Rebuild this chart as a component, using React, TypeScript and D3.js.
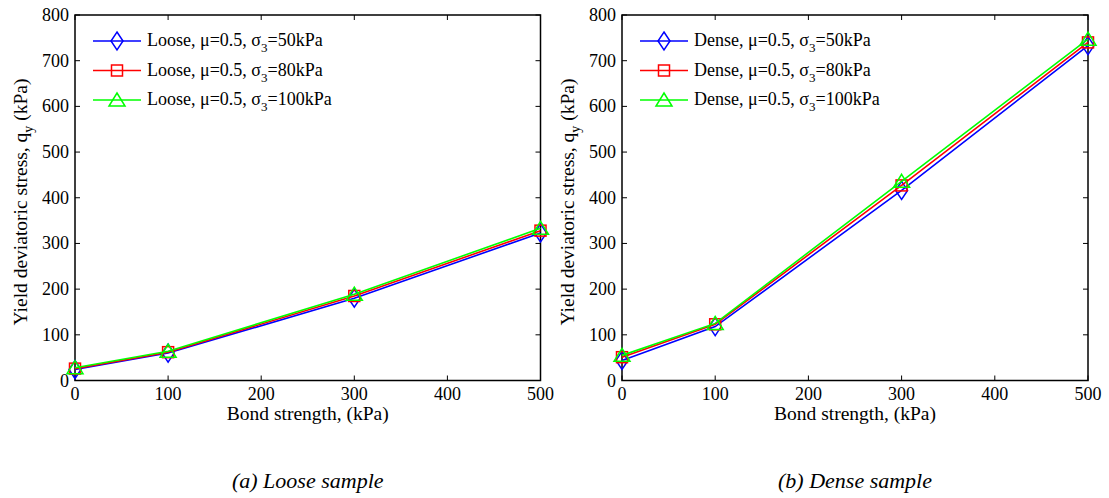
import React from "react";
import * as d3 from "d3";

const bondStrength = [0, 100, 300, 500];
const xTicks = [0, 100, 200, 300, 400, 500];
const yTicks = [0, 100, 200, 300, 400, 500, 600, 700, 800];

const loose50 = [24, 60, 180, 323];
const loose80 = [26, 62, 185, 328];
const loose100 = [28, 64, 189, 333];

const dense50 = [44, 118, 416, 733];
const dense80 = [51, 123, 427, 740];
const dense100 = [55, 125, 436, 747];

const sigmaLabels = ["50kPa", "80kPa", "100kPa"];
const seriesColors = ["#0000ff", "#ff0000", "#00ff00"];
const markerKinds = ["diamond", "square", "triangle"];

const FONT = "'Liberation Serif', 'Times New Roman', serif";

function Marker({ kind, x, y, color }: { kind: string; x: number; y: number; color: string }) {
  if (kind === "diamond") {
    return <path d={`M${x},${y - 9}L${x + 6},${y}L${x},${y + 9}L${x - 6},${y}Z`} fill="none" stroke={color} strokeWidth={1.5} />;
  }
  if (kind === "square") {
    return <rect x={x - 5.5} y={y - 5.5} width={11} height={11} fill="none" stroke={color} strokeWidth={1.5} />;
  }
  return <path d={`M${x},${y - 7}L${x + 8},${y + 6}L${x - 8},${y + 6}Z`} fill="none" stroke={color} strokeWidth={1.5} />;
}

function Panel({ x0, x1, series, prefix, caption }: { x0: number; x1: number; series: number[][]; prefix: string; caption: string }) {
  const top = 15;
  const bottom = 380.5;
  const xs = d3.scaleLinear().domain([0, 500]).range([x0, x1]);
  const ys = d3.scaleLinear().domain([0, 800]).range([bottom, top]);
  const line = d3
    .line<number>()
    .x((_, i) => xs(bondStrength[i]))
    .y((d) => ys(d));
  const cx = (x0 + x1) / 2;
  const tl = 5;
  const fs = 18;
  const afs = 19.5;
  return (
    <g fontFamily={FONT}>
      {xTicks.map((t) => (
        <g key={"x" + t}>
          <line x1={xs(t)} x2={xs(t)} y1={bottom} y2={bottom - tl} stroke="#000" strokeWidth={1} />
          <line x1={xs(t)} x2={xs(t)} y1={top} y2={top + tl} stroke="#000" strokeWidth={1} />
          <text x={xs(t)} y={bottom + 19} textAnchor="middle" fontSize={fs}>{t}</text>
        </g>
      ))}
      {yTicks.map((t) => (
        <g key={"y" + t}>
          <line x1={x0} x2={x0 + tl} y1={ys(t)} y2={ys(t)} stroke="#000" strokeWidth={1} />
          <line x1={x1} x2={x1 - tl} y1={ys(t)} y2={ys(t)} stroke="#000" strokeWidth={1} />
          <text x={x0 - 6} y={ys(t) + 6} textAnchor="end" fontSize={fs}>{t}</text>
        </g>
      ))}
      <rect x={x0} y={top} width={x1 - x0} height={bottom - top} fill="none" stroke="#000" strokeWidth={1.5} />
      {series.map((s, k) => (
        <g key={"s" + k}>
          <path d={line(s) || ""} fill="none" stroke={seriesColors[k]} strokeWidth={1.6} />
          {s.map((v, i) => (
            <Marker key={i} kind={markerKinds[k]} x={xs(bondStrength[i])} y={ys(v)} color={seriesColors[k]} />
          ))}
        </g>
      ))}
      {sigmaLabels.map((lab, k) => {
        const ly = 41 + k * 29.5;
        const lx = x0 + 18;
        return (
          <g key={"l" + k}>
            <line x1={lx} x2={lx + 48} y1={ly} y2={ly} stroke={seriesColors[k]} strokeWidth={1.6} />
            <Marker kind={markerKinds[k]} x={lx + 24} y={ly} color={seriesColors[k]} />
            <text x={lx + 54} y={ly + 5} fontSize={fs}>
              {prefix}, μ=0.5, σ<tspan dy={6} fontSize={13}>3</tspan>
              <tspan dy={-6}>={lab}</tspan>
            </text>
          </g>
        );
      })}
      <text x={cx} y={bottom + 39.5} textAnchor="middle" fontSize={afs}>Bond strength, (kPa)</text>
      <text transform={`translate(${x0 - 48},${202}) rotate(-90)`} textAnchor="middle" fontSize={afs}>
        Yield deviatoric stress, q<tspan dy={6} fontSize={14}>y</tspan>
        <tspan dy={-6}> (kPa)</tspan>
      </text>
      <text x={cx} y={488} textAnchor="middle" fontSize={22} fontStyle="italic">{caption}</text>
    </g>
  );
}

export default function App() {
  return (
    <svg width={1109} height={498} style={{ position: "absolute", left: 0, top: 0, background: "#fff" }}>
      <rect width={1109} height={498} fill="#fff" />
      <Panel x0={75} x1={540.5} series={[loose50, loose80, loose100]} prefix="Loose" caption="(a) Loose sample" />
      <Panel x0={622} x1={1088} series={[dense50, dense80, dense100]} prefix="Dense" caption="(b) Dense sample" />
    </svg>
  );
}
